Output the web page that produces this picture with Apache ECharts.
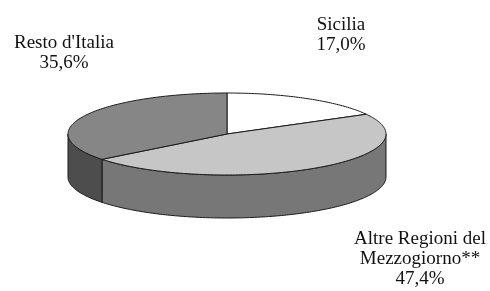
<!DOCTYPE html>
<html>
<head>
<meta charset="utf-8">
<script src="https://cdn.jsdelivr.net/npm/echarts@6/dist/echarts.min.js"></script>
<style>
html, body { margin: 0; padding: 0; background: #fff; }
#chart { width: 490px; height: 291px; }
</style>
</head>
<body>
<div id="chart"></div>
<script>
// quote per area (%)
const categories = ["Sicilia", "Altre Regioni del\nMezzogiorno**", "Resto d'Italia"]
const values = [17.0, 47.4, 35.6]
const topColors = ["#ffffff", "#c6c6c6", "#868686"]
const sideColors = ["#bdbdbd", "#777777", "#4d4d4d"]

// posizione etichette (centro del testo)
const labelPos = [[341, 35], [420, 259], [64, 53]]

// geometria della torta 3D
const cx = 227, cy = 134, rx = 159, ry = 41, depth = 43

const total = values.reduce((a, b) => a + b, 0)
const starts = []
let acc = 0
values.forEach(v => { starts.push(acc / total * 360); acc += v })

const pt = (deg, dy) => {
  const r = deg * Math.PI / 180
  return [cx + rx * Math.sin(r), cy - ry * Math.cos(r) + (dy || 0)]
}
const arc = (a, b, dy) => {
  const pts = []
  const n = Math.max(2, Math.ceil(b - a))
  for (let i = 0; i <= n; i++) pts.push(pt(a + (b - a) * i / n, dy))
  return pts
}

const renderItem = (params, api) => {
  const i = params.dataIndex
  const a = starts[i]
  const b = a + api.value(1) / total * 360
  const children = []
  // parete laterale (solo parte anteriore, 90°-270°)
  const sa = Math.max(a, 90), sb = Math.min(b, 270)
  if (sb > sa) {
    const top = arc(sa, sb, 0)
    const bottom = arc(sa, sb, depth).reverse()
    children.push({
      type: "polygon",
      z2: 1,
      shape: { points: top.concat(bottom) },
      style: { fill: sideColors[i], stroke: "#1a1a1a", lineWidth: 1 }
    })
  }
  // faccia superiore
  children.push({
    type: "polygon",
    z2: 2,
    shape: { points: [[cx, cy]].concat(arc(a, b, 0)) },
    style: { fill: topColors[i], stroke: "#1a1a1a", lineWidth: 1 }
  })
  return { type: "group", children }
}

const fmt = v => v.toFixed(1).replace(".", ",") + "%"

const chart = echarts.init(document.getElementById("chart"))
chart.setOption({
  animation: false,
  series: [
    {
      type: "custom",
      coordinateSystem: "none",
      renderItem,
      data: values.map((v, i) => [i, v])
    }
  ],
  graphic: categories.map((c, i) => ({
    type: "text",
    x: labelPos[i][0],
    y: labelPos[i][1],
    style: {
      text: c + "\n" + fmt(values[i]),
      align: "center",
      verticalAlign: "middle",
      fontFamily: "Liberation Serif",
      fontSize: 19,
      lineHeight: 20,
      fill: "#111"
    }
  }))
})
</script>
</body>
</html>
